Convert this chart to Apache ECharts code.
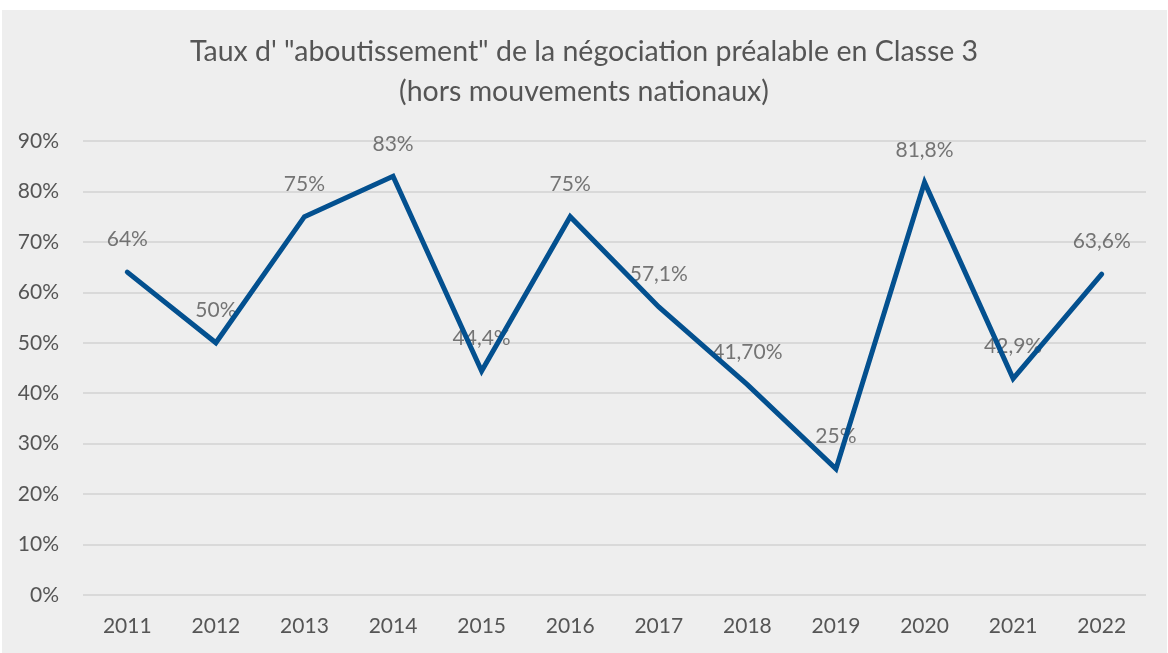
<!DOCTYPE html>
<html>
<head>
<meta charset="utf-8">
<script src="https://cdn.jsdelivr.net/npm/echarts@6/dist/echarts.min.js"></script>
<style>html,body{margin:0;padding:0;background:#fff}#c{width:1168px;height:653px}</style>
</head>
<body>
<div id="c"></div>
<script>
const categories = ['2011','2012','2013','2014','2015','2016','2017','2018','2019','2020','2021','2022'];
const values = [64, 50, 75, 83, 44.4, 75, 57.1, 41.7, 25, 81.8, 42.9, 63.6];
const valueLabels = ['64%','50%','75%','83%','44,4%','75%','57,1%','41,70%','25%','81,8%','42,9%','63,6%'];
const yTicks = [0,10,20,30,40,50,60,70,80,90];

const FONT = 'Lato, "Open Sans", sans-serif';
const TXT = '#555555';
const chart = echarts.init(document.getElementById('c'), null, {renderer: 'canvas'});
chart.setOption({
  backgroundColor: '#ffffff',
  graphic: [{type: 'rect', z: -10, shape: {x: 2, y: 10, width: 1165, height: 643}, style: {fill: '#eeeeee'}}],
  title: {
    text: 'Taux d\' "aboutissement" de la négociation préalable en Classe 3\n(hors mouvements nationaux)',
    left: 'center', top: 27,
    textStyle: {fontFamily: FONT, fontSize: 28.5, fontWeight: 'normal', color: TXT, lineHeight: 40}
  },
  grid: {left: 83, right: 22, top: 141, bottom: 58, containLabel: false},
  xAxis: {
    type: 'category', data: categories, boundaryGap: true,
    axisLine: {show: false}, axisTick: {show: false},
    axisLabel: {fontFamily: FONT, fontSize: 21, color: TXT, margin: 21}
  },
  yAxis: {
    type: 'value', min: 0, max: 90, interval: 10,
    axisLine: {show: false}, axisTick: {show: false},
    splitLine: {lineStyle: {color: '#d9d9d9', width: 2}},
    axisLabel: {fontFamily: FONT, fontSize: 21, color: TXT, margin: 24,
      formatter: v => yTicks.includes(v) ? v + '%' : ''}
  },
  series: [
    {
      type: 'scatter', data: values, symbolSize: 0, z: 1, silent: true,
      label: {show: true, position: 'top', distance: 22, fontFamily: FONT, fontSize: 21, color: TXT,
        formatter: p => valueLabels[p.dataIndex]}
    },
    {
      type: 'line', data: values, z: 5, symbol: 'none', silent: true,
      lineStyle: {color: '#03508f', width: 5, cap: 'round', join: 'miter'}
    }
  ],
  animation: false
});
</script>
</body>
</html>
